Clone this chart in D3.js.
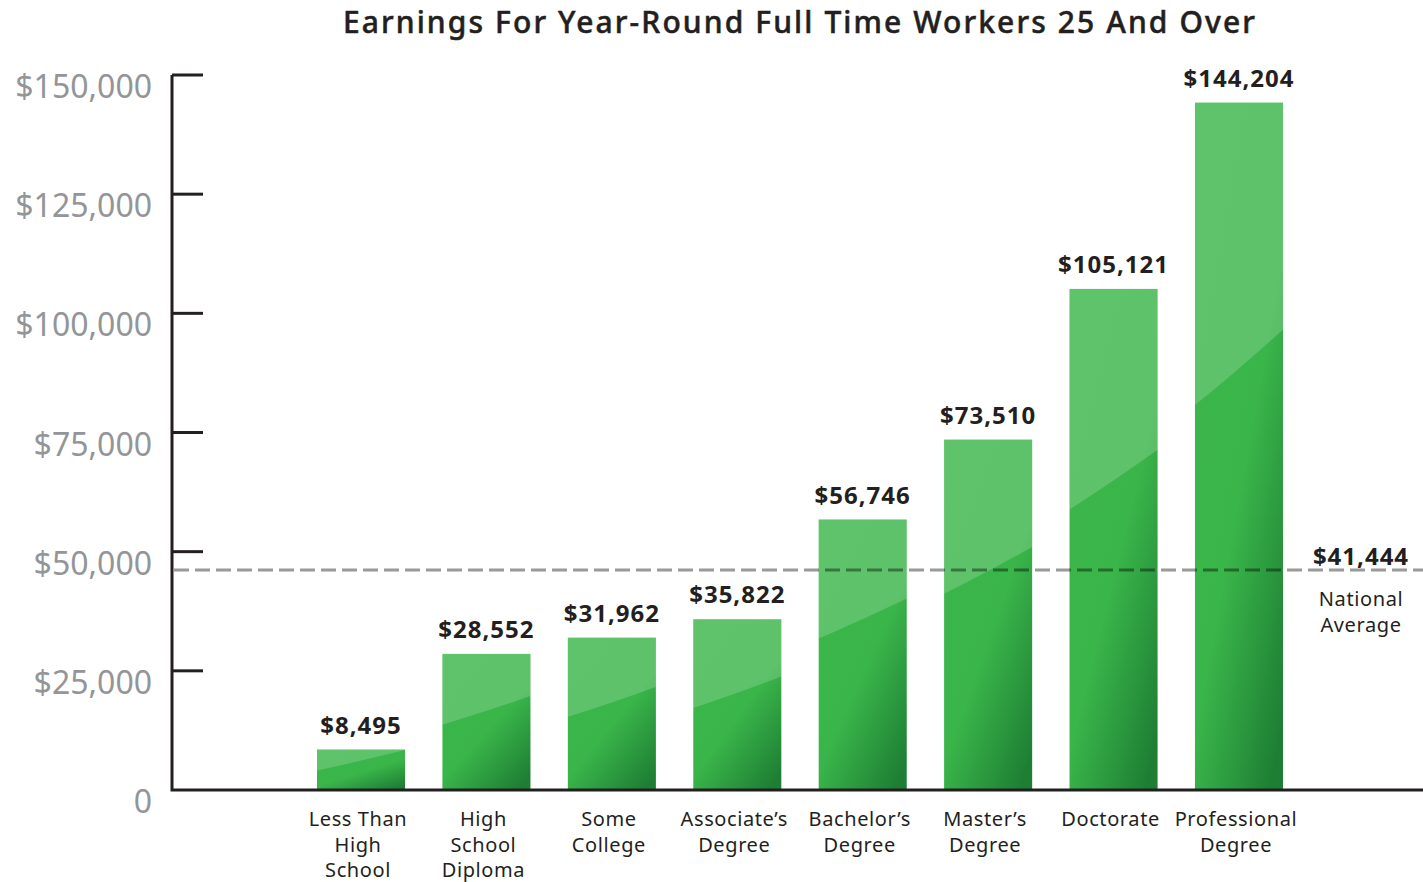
<!DOCTYPE html>
<html>
<head>
    <meta charset="utf-8">
    <style>
        body { margin: 0; background: #fff; }
        svg text { font-family: "Noto Sans", "DejaVu Sans", sans-serif; }
        .title { font-size: 30px; font-weight: 500; fill: #231f20; stroke: #231f20; stroke-width: 0.5px; letter-spacing: 2.1px; }
        .ytick { font-size: 32px; fill: #939598; }
        .value { font-size: 24px; font-weight: 700; fill: #231f20; letter-spacing: 1px; }
        .cat { font-size: 20px; fill: #231f20; letter-spacing: 0.6px; }
        .axis-line { stroke: #231f20; stroke-width: 3px; fill: none; }
    </style>
</head>
<body>
    <script src="https://d3js.org/d3.v7.min.js"></script>
    <script>
        // Data
        var categories = ["Less Than|High|School", "High|School|Diploma", "Some|College",
            "Associate\u2019s|Degree", "Bachelor\u2019s|Degree", "Master\u2019s|Degree",
            "Doctorate", "Professional|Degree"];
        var earnings = [8495, 28552, 31962, 35822, 56746, 73510, 105121, 144204];
        var yTicks = [0, 25000, 50000, 75000, 100000, 125000, 150000];
        var nationalAverage = 41444;
        // the dashed line sits a little higher than the label value in the picture
        var averageLineLevel = 46150;

        var width = 1423, height = 882;

        var svg = d3.select("body").append("svg")
            .attr("width", width)
            .attr("height", height);

        var x = d3.scaleBand()
            .domain(categories)
            .range([317, 1283])
            .paddingInner(0.298)
            .paddingOuter(0);

        var y = d3.scaleLinear()
            .domain([0, 150000])
            .range([790, 75]);

        var fmt = d3.format("$,");

        // Gradients
        var defs = svg.append("defs");
        var grad = defs.append("linearGradient")
            .attr("id", "barGrad")
            .attr("x1", 0.15).attr("y1", 0)
            .attr("x2", 0.85).attr("y2", 1);
        grad.append("stop").attr("offset", 0).attr("stop-color", "#3cb64b");
        grad.append("stop").attr("offset", 0.55).attr("stop-color", "#3ab54a");
        grad.append("stop").attr("offset", 1).attr("stop-color", "#1e7f34");

        // Title
        svg.append("text")
            .attr("class", "title")
            .attr("x", 800)
            .attr("y", 33)
            .attr("text-anchor", "middle")
            .text("Earnings For Year-Round Full Time Workers 25 And Over");

        // Bars
        var bar = svg.selectAll(".bar")
            .data(earnings)
            .enter().append("g")
            .attr("class", "bar");

        bar.append("rect")
            .attr("x", function (d, i) { return x(categories[i]); })
            .attr("y", function (d) { return y(d); })
            .attr("width", x.bandwidth())
            .attr("height", function (d) { return y(0) - y(d); })
            .attr("fill", "url(#barGrad)");

        // glossy highlight on the top of each bar
        bar.append("path")
            .attr("fill", "#fff")
            .attr("fill-opacity", 0.18)
            .attr("d", function (d, i) {
                var x0 = x(categories[i]), x1 = x0 + x.bandwidth();
                var top = y(d), h = y(0) - y(d);
                var frac = h < 200 ? 0.52 : 0.44;
                var leftY = top + frac * h;
                var rightY = leftY - (17 + 0.085 * h);
                if (rightY < top) rightY = top;
                return "M" + x0 + "," + top + "L" + x1 + "," + top
                    + "L" + x1 + "," + rightY
                    + "Q" + (x0 + x.bandwidth() * 0.45) + "," + (leftY - (leftY - rightY) * 0.42)
                    + " " + x0 + "," + leftY + "Z";
            });

        // Value labels
        bar.append("text")
            .attr("class", "value")
            .attr("x", function (d, i) { return x(categories[i]) + x.bandwidth() / 2; })
            .attr("y", function (d) { return y(d) - 16; })
            .attr("text-anchor", "middle")
            .text(function (d) { return fmt(d); });

        // Axes
        svg.append("path")
            .attr("class", "axis-line")
            .attr("d", "M" + 172 + "," + y(150000) + "V" + y(0) + "H" + width);

        svg.selectAll(".tick-line")
            .data(yTicks.slice(1))
            .enter().append("line")
            .attr("class", "axis-line")
            .attr("stroke-width", 2.5)
            .attr("x1", 172).attr("x2", 203)
            .attr("y1", function (d) { return y(d); })
            .attr("y2", function (d) { return y(d); });

        svg.selectAll(".ytick")
            .data(yTicks)
            .enter().append("text")
            .attr("class", "ytick")
            .attr("x", 152)
            .attr("y", function (d) { return y(d) + 23; })
            .attr("text-anchor", "end")
            .text(function (d) { return d === 0 ? "0" : fmt(d); });

        // Category labels
        var cat = svg.selectAll(".cat")
            .data(categories)
            .enter().append("text")
            .attr("class", "cat")
            .attr("text-anchor", "middle")
            .attr("x", function (d) { return x(d) + x.bandwidth() / 2 - 3; })
            .attr("y", 826);
        cat.selectAll("tspan")
            .data(function (d) { return d.split("|"); })
            .enter().append("tspan")
            .attr("x", function () { return d3.select(this.parentNode).attr("x"); })
            .attr("dy", function (d, i) { return i === 0 ? 0 : 25.5; })
            .text(function (d) { return d; });

        // National average line
        svg.append("line")
            .attr("x1", 174).attr("x2", width)
            .attr("y1", y(averageLineLevel)).attr("y2", y(averageLineLevel))
            .attr("stroke", "#000")
            .attr("stroke-opacity", 0.4)
            .attr("stroke-width", 3)
            .attr("stroke-dasharray", "15,6");

        svg.append("text")
            .attr("class", "value")
            .attr("x", 1361)
            .attr("y", y(averageLineLevel) - 5)
            .attr("text-anchor", "middle")
            .text(fmt(nationalAverage));

        svg.append("text")
            .attr("class", "cat")
            .attr("text-anchor", "middle")
            .attr("x", 1361)
            .attr("y", 606)
            .selectAll("tspan")
            .data(["National", "Average"])
            .enter().append("tspan")
            .attr("x", 1361)
            .attr("dy", function (d, i) { return i === 0 ? 0 : 26; })
            .text(function (d) { return d; });
    </script>
</body>
</html>
